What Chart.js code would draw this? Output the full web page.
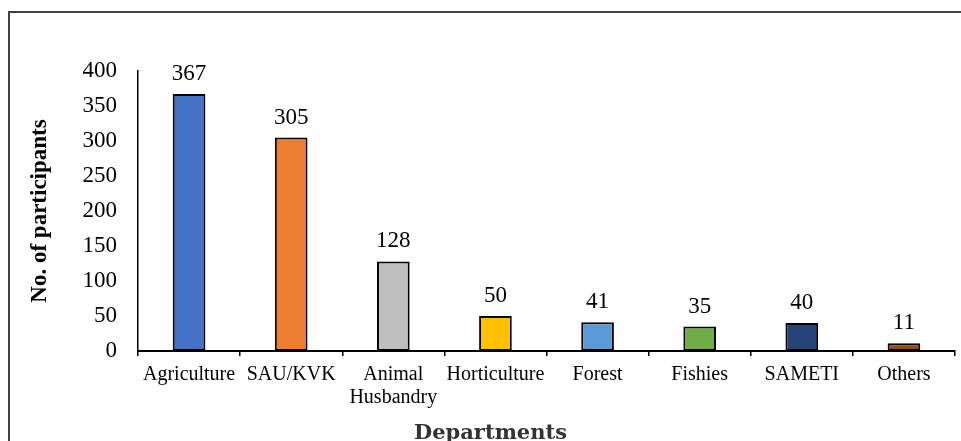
<!DOCTYPE html>
<html>
<head>
<meta charset="utf-8">
<script src="https://cdn.jsdelivr.net/npm/chart.js@4/dist/chart.umd.min.js"></script>
<style>
  html, body { margin: 0; padding: 0; background: #fff; }
  #wrap { position: relative; width: 961px; height: 441px; }
</style>
</head>
<body>
<div id="wrap"><canvas id="c" width="961" height="441"></canvas></div>
<script>
// ---- data ----
const categories = ['Agriculture', 'SAU/KVK', ['Animal', 'Husbandry'], 'Horticulture', 'Forest', 'Fishies', 'SAMETI', 'Others'];
const participants = [367, 305, 128, 50, 41, 35, 40, 11];
const yTicks = { min: 0, max: 400, step: 50 };
const xTitle = 'Departments';
const yTitle = 'No. of participants';
const barColors = ['#4472C4', '#ED7D31', '#BFBFBF', '#FFC000', '#5B9BD5', '#70AD47', '#264478', '#9E480E'];

const SERIF = '"Liberation Serif", "Times New Roman", serif';

const frame = {
  id: 'frame',
  beforeDraw(chart) {
    const ctx = chart.ctx;
    ctx.save();
    ctx.fillStyle = '#ffffff';
    ctx.fillRect(0, 0, chart.width, chart.height);
    ctx.strokeStyle = '#404040';
    ctx.lineWidth = 2;
    ctx.strokeRect(9, 12, 1000, 1000);
    ctx.restore();
  }
};

const valueLabels = {
  id: 'valueLabels',
  afterDatasetsDraw(chart) {
    const ctx = chart.ctx;
    const meta = chart.getDatasetMeta(0);
    const data = chart.data.datasets[0].data;
    ctx.save();
    ctx.font = '23px ' + SERIF;
    ctx.fillStyle = '#000';
    ctx.textAlign = 'center';
    ctx.textBaseline = 'alphabetic';
    meta.data.forEach((bar, i) => {
      ctx.fillText(String(data[i]), bar.x, bar.y - 14);
    });
    ctx.restore();
  }
};

new Chart(document.getElementById('c'), {
  type: 'bar',
  data: {
    labels: categories,
    datasets: [{
      data: participants,
      backgroundColor: barColors,
      borderColor: '#000',
      borderWidth: 2,
      borderSkipped: false,
      categoryPercentage: 1,
      barPercentage: 0.32
    }]
  },
  options: {
    responsive: false,
    animation: false,
    devicePixelRatio: 1,
    layout: { padding: { left: 26, right: 6, top: 71, bottom: 0 } },
    plugins: {
      legend: { display: false },
      tooltip: { enabled: false },
      title: {
        display: true,
        position: 'bottom',
        text: xTitle,
        color: '#333333',
        font: { family: '"DejaVu Serif", serif', size: 21, weight: 'bold', lineHeight: 1.2 },
        padding: { top: 5, bottom: -5 }
      }
    },
    scales: {
      x: {
        afterFit(scale) { scale.height = 64.8; },
        grid: { display: true, drawOnChartArea: false, drawTicks: true, tickLength: 5, color: '#000', lineWidth: 1.5, offset: true },
        border: { display: true, color: '#000', width: 2 },
        ticks: { color: '#000', padding: 8, maxRotation: 0, autoSkip: false, font: { family: SERIF, size: 20, lineHeight: 1.12 } }
      },
      y: {
        min: yTicks.min,
        max: yTicks.max,
        afterFit(scale) { scale.width = 112; },
        grid: { display: false, drawTicks: false },
        border: { display: true, color: '#000', width: 1.5 },
        ticks: { stepSize: yTicks.step, color: '#000', padding: 21, font: { family: SERIF, size: 23 } },
        title: {
          display: true,
          text: yTitle,
          color: '#000',
          font: { family: SERIF, size: 23, weight: 'bold', lineHeight: 1.2 },
          padding: { top: 0, bottom: 0 }
        }
      }
    }
  },
  plugins: [frame, valueLabels]
});
</script>
</body>
</html>
